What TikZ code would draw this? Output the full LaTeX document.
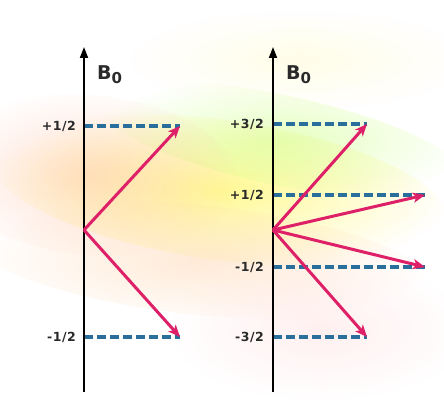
\documentclass[tikz,border=0pt]{standalone}
\usepackage{fontspec}
\setmainfont{DejaVu Sans}
\usetikzlibrary{arrows.meta,fadings}
\definecolor{spin}{HTML}{DE2068}
\definecolor{lvl}{HTML}{2A6E9C}
\definecolor{txt}{HTML}{2A2A2A}
\tikzfading[name=softblob, inner color=transparent!0, outer color=transparent!100]
\tikzset{
  axisline/.style={line width=1.8pt, black, -{Triangle[length=11pt,width=8pt]}},
  spinvec/.style={line width=3pt, spin, -{Stealth[length=12pt,width=10pt,inset=3pt]}},
  level/.style={line width=3.4pt, lvl, dash pattern=on 9pt off 4pt},
  ticklab/.style={anchor=east, font=\bfseries\fontsize{12.5}{13}\selectfont\addfontfeatures{LetterSpace=4}, text=txt, inner sep=0pt},
  blab/.style={anchor=west, font=\bfseries\fontsize{19}{20}\selectfont, text=txt, inner sep=0pt},
  blob/.style={path fading=softblob}
}
\begin{document}
\begin{tikzpicture}[x=1pt,y=-1pt]
\useasboundingbox (0,0) rectangle (444,401);
\fill[white] (0,0) rectangle (444,401);
% soft background washes
\fill[yellow!70, blob, opacity=0.6, rotate around={-8:(220,190)}] (220,190) ellipse (230 and 70);
\fill[green!40!yellow!50, blob, opacity=0.5, rotate around={-12:(280,140)}] (280,140) ellipse (190 and 45);
\fill[red!35!orange!40, blob, opacity=0.45, rotate around={-5:(90,175)}] (90,175) ellipse (150 and 80);
\fill[orange!35, blob, opacity=0.45, rotate around={-6:(200,260)}] (200,260) ellipse (230 and 55);
\fill[pink!60, blob, opacity=0.4] (320,330) ellipse (150 and 70);
\fill[yellow!30, blob, opacity=0.3] (300,60) ellipse (170 and 50);
% left diagram
\coordinate (a1bot) at (84,392);
\coordinate (a1top) at (84,47);
\coordinate (o1) at (84,230);
\coordinate (l1p) at (84,126);
\coordinate (l1m) at (84,337);
\coordinate (t1p) at (180,126);
\coordinate (t1m) at (180,337);
\draw[level] (l1p) -- (t1p);
\draw[level] (l1m) -- (t1m);
\draw[axisline] (a1bot) -- (a1top);
\draw[spinvec] (o1) -- (t1p);
\draw[spinvec] (o1) -- (t1m);
\node[blab] (b1) at (97,75) {B\raisebox{-4pt}{\fontsize{15}{15}\selectfont 0}};
\node[ticklab] (n1p) at (76,126) {+1/2};
\node[ticklab] (n1m) at (76,337) {-1/2};
% right diagram
\coordinate (a2bot) at (273,392);
\coordinate (a2top) at (273,47);
\coordinate (o2) at (273,230);
\coordinate (l2a) at (273,124);
\coordinate (l2b) at (273,195);
\coordinate (l2c) at (273,267);
\coordinate (l2d) at (273,337);
\coordinate (t2a) at (367,124);
\coordinate (t2b) at (425,195);
\coordinate (t2c) at (425,267);
\coordinate (t2d) at (367,337);
\draw[level] (l2a) -- (t2a);
\draw[level] (l2b) -- (t2b);
\draw[level] (l2c) -- (t2c);
\draw[level] (l2d) -- (t2d);
\draw[axisline] (a2bot) -- (a2top);
\draw[spinvec] (o2) -- (t2a);
\draw[spinvec] (o2) -- (t2b);
\draw[spinvec] (o2) -- (t2c);
\draw[spinvec] (o2) -- (t2d);
\node[blab] (b2) at (286,75) {B\raisebox{-4pt}{\fontsize{15}{15}\selectfont 0}};
\node[ticklab] (n2a) at (264,124) {+3/2};
\node[ticklab] (n2b) at (264,195) {+1/2};
\node[ticklab] (n2c) at (264,267) {-1/2};
\node[ticklab] (n2d) at (264,337) {-3/2};
\end{tikzpicture}
\end{document}
